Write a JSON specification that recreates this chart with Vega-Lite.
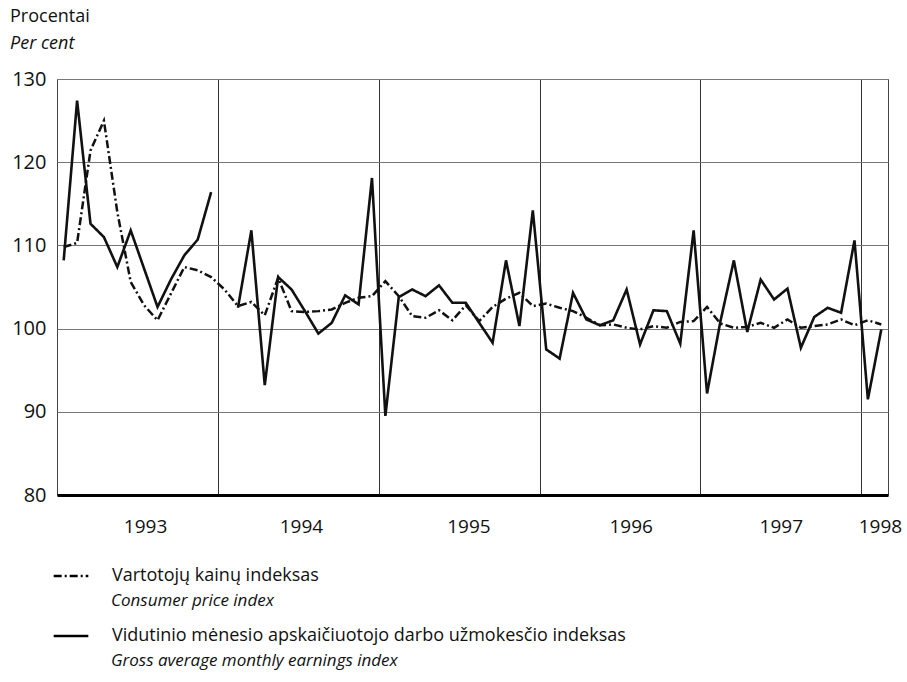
{
  "$schema": "https://vega.github.io/schema/vega-lite/v6.json",
  "width": 831,
  "height": 416,
  "autosize": "none",
  "padding": {"left": 57, "top": 79, "right": 19, "bottom": 187},
  "background": "white",
  "config": {
    "view": {"stroke": "#444", "strokeWidth": 1},
    "font": "Open Sans"
  },
  "title": {
    "text": "Procentai",
    "subtitle": "Per cent",
    "anchor": "start",
    "frame": "group",
    "dx": -47,
    "fontSize": 18,
    "fontWeight": "normal",
    "color": "#111",
    "subtitleFontSize": 18,
    "subtitleFontStyle": "italic",
    "subtitleColor": "#111",
    "subtitlePadding": 9,
    "offset": 16
  },
  "datasets": {
    "names": [
      {"s": "cpi", "lt": "Vartotojų kainų indeksas", "en": "Consumer price index"},
      {"s": "earn", "lt": "Vidutinio mėnesio apskaičiuotojo darbo užmokesčio indeksas", "en": "Gross average monthly earnings index"}
    ],
    "values": [
      {"m": 1, "s": "cpi", "seg": "c", "v": 109.8},
      {"m": 2, "s": "cpi", "seg": "c", "v": 110.3},
      {"m": 3, "s": "cpi", "seg": "c", "v": 121.4},
      {"m": 4, "s": "cpi", "seg": "c", "v": 125.0},
      {"m": 5, "s": "cpi", "seg": "c", "v": 114.0},
      {"m": 6, "s": "cpi", "seg": "c", "v": 105.6},
      {"m": 7, "s": "cpi", "seg": "c", "v": 102.8},
      {"m": 8, "s": "cpi", "seg": "c", "v": 101.0},
      {"m": 9, "s": "cpi", "seg": "c", "v": 104.2},
      {"m": 10, "s": "cpi", "seg": "c", "v": 107.4},
      {"m": 11, "s": "cpi", "seg": "c", "v": 107.0},
      {"m": 12, "s": "cpi", "seg": "c", "v": 106.2},
      {"m": 13, "s": "cpi", "seg": "c", "v": 104.7},
      {"m": 14, "s": "cpi", "seg": "c", "v": 102.7},
      {"m": 15, "s": "cpi", "seg": "c", "v": 103.2},
      {"m": 16, "s": "cpi", "seg": "c", "v": 101.6},
      {"m": 17, "s": "cpi", "seg": "c", "v": 106.1},
      {"m": 18, "s": "cpi", "seg": "c", "v": 102.1},
      {"m": 19, "s": "cpi", "seg": "c", "v": 102.0},
      {"m": 20, "s": "cpi", "seg": "c", "v": 102.1},
      {"m": 21, "s": "cpi", "seg": "c", "v": 102.3},
      {"m": 22, "s": "cpi", "seg": "c", "v": 103.1},
      {"m": 23, "s": "cpi", "seg": "c", "v": 103.7},
      {"m": 24, "s": "cpi", "seg": "c", "v": 103.9},
      {"m": 25, "s": "cpi", "seg": "c", "v": 105.7},
      {"m": 26, "s": "cpi", "seg": "c", "v": 103.9},
      {"m": 27, "s": "cpi", "seg": "c", "v": 101.5},
      {"m": 28, "s": "cpi", "seg": "c", "v": 101.3},
      {"m": 29, "s": "cpi", "seg": "c", "v": 102.2},
      {"m": 30, "s": "cpi", "seg": "c", "v": 101.0},
      {"m": 31, "s": "cpi", "seg": "c", "v": 102.8},
      {"m": 32, "s": "cpi", "seg": "c", "v": 100.9},
      {"m": 33, "s": "cpi", "seg": "c", "v": 102.6},
      {"m": 34, "s": "cpi", "seg": "c", "v": 103.6},
      {"m": 35, "s": "cpi", "seg": "c", "v": 104.3},
      {"m": 36, "s": "cpi", "seg": "c", "v": 102.7},
      {"m": 37, "s": "cpi", "seg": "c", "v": 103.0},
      {"m": 38, "s": "cpi", "seg": "c", "v": 102.5},
      {"m": 39, "s": "cpi", "seg": "c", "v": 102.1},
      {"m": 40, "s": "cpi", "seg": "c", "v": 101.3},
      {"m": 41, "s": "cpi", "seg": "c", "v": 100.4},
      {"m": 42, "s": "cpi", "seg": "c", "v": 100.5},
      {"m": 43, "s": "cpi", "seg": "c", "v": 100.1},
      {"m": 44, "s": "cpi", "seg": "c", "v": 99.9},
      {"m": 45, "s": "cpi", "seg": "c", "v": 100.3},
      {"m": 46, "s": "cpi", "seg": "c", "v": 100.1},
      {"m": 47, "s": "cpi", "seg": "c", "v": 100.8},
      {"m": 48, "s": "cpi", "seg": "c", "v": 100.9},
      {"m": 49, "s": "cpi", "seg": "c", "v": 102.6},
      {"m": 50, "s": "cpi", "seg": "c", "v": 100.6},
      {"m": 51, "s": "cpi", "seg": "c", "v": 100.1},
      {"m": 52, "s": "cpi", "seg": "c", "v": 100.2},
      {"m": 53, "s": "cpi", "seg": "c", "v": 100.7},
      {"m": 54, "s": "cpi", "seg": "c", "v": 100.1},
      {"m": 55, "s": "cpi", "seg": "c", "v": 101.1},
      {"m": 56, "s": "cpi", "seg": "c", "v": 100.1},
      {"m": 57, "s": "cpi", "seg": "c", "v": 100.3},
      {"m": 58, "s": "cpi", "seg": "c", "v": 100.5},
      {"m": 59, "s": "cpi", "seg": "c", "v": 101.1},
      {"m": 60, "s": "cpi", "seg": "c", "v": 100.4},
      {"m": 61, "s": "cpi", "seg": "c", "v": 101.0},
      {"m": 62, "s": "cpi", "seg": "c", "v": 100.5},
      {"m": 1, "s": "earn", "seg": "e1", "v": 108.2},
      {"m": 2, "s": "earn", "seg": "e1", "v": 127.4},
      {"m": 3, "s": "earn", "seg": "e1", "v": 112.6},
      {"m": 4, "s": "earn", "seg": "e1", "v": 111.0},
      {"m": 5, "s": "earn", "seg": "e1", "v": 107.4},
      {"m": 6, "s": "earn", "seg": "e1", "v": 111.8},
      {"m": 7, "s": "earn", "seg": "e1", "v": 107.2},
      {"m": 8, "s": "earn", "seg": "e1", "v": 102.6},
      {"m": 9, "s": "earn", "seg": "e1", "v": 105.9},
      {"m": 10, "s": "earn", "seg": "e1", "v": 108.8},
      {"m": 11, "s": "earn", "seg": "e1", "v": 110.7},
      {"m": 12, "s": "earn", "seg": "e1", "v": 116.4},
      {"m": 14, "s": "earn", "seg": "e2", "v": 102.5},
      {"m": 15, "s": "earn", "seg": "e2", "v": 111.8},
      {"m": 16, "s": "earn", "seg": "e2", "v": 93.2},
      {"m": 17, "s": "earn", "seg": "e2", "v": 106.2},
      {"m": 18, "s": "earn", "seg": "e2", "v": 104.7},
      {"m": 19, "s": "earn", "seg": "e2", "v": 102.1},
      {"m": 20, "s": "earn", "seg": "e2", "v": 99.4},
      {"m": 21, "s": "earn", "seg": "e2", "v": 100.7},
      {"m": 22, "s": "earn", "seg": "e2", "v": 104.0},
      {"m": 23, "s": "earn", "seg": "e2", "v": 102.9},
      {"m": 24, "s": "earn", "seg": "e2", "v": 118.1},
      {"m": 25, "s": "earn", "seg": "e2", "v": 89.5},
      {"m": 26, "s": "earn", "seg": "e2", "v": 103.8},
      {"m": 27, "s": "earn", "seg": "e2", "v": 104.7},
      {"m": 28, "s": "earn", "seg": "e2", "v": 103.9},
      {"m": 29, "s": "earn", "seg": "e2", "v": 105.2},
      {"m": 30, "s": "earn", "seg": "e2", "v": 103.1},
      {"m": 31, "s": "earn", "seg": "e2", "v": 103.1},
      {"m": 32, "s": "earn", "seg": "e2", "v": 100.7},
      {"m": 33, "s": "earn", "seg": "e2", "v": 98.3},
      {"m": 34, "s": "earn", "seg": "e2", "v": 108.2},
      {"m": 35, "s": "earn", "seg": "e2", "v": 100.3},
      {"m": 36, "s": "earn", "seg": "e2", "v": 114.2},
      {"m": 37, "s": "earn", "seg": "e2", "v": 97.5},
      {"m": 38, "s": "earn", "seg": "e2", "v": 96.4},
      {"m": 39, "s": "earn", "seg": "e2", "v": 104.3},
      {"m": 40, "s": "earn", "seg": "e2", "v": 101.1},
      {"m": 41, "s": "earn", "seg": "e2", "v": 100.4},
      {"m": 42, "s": "earn", "seg": "e2", "v": 101.0},
      {"m": 43, "s": "earn", "seg": "e2", "v": 104.7},
      {"m": 44, "s": "earn", "seg": "e2", "v": 98.1},
      {"m": 45, "s": "earn", "seg": "e2", "v": 102.2},
      {"m": 46, "s": "earn", "seg": "e2", "v": 102.1},
      {"m": 47, "s": "earn", "seg": "e2", "v": 98.2},
      {"m": 48, "s": "earn", "seg": "e2", "v": 111.8},
      {"m": 49, "s": "earn", "seg": "e2", "v": 92.2},
      {"m": 50, "s": "earn", "seg": "e2", "v": 100.9},
      {"m": 51, "s": "earn", "seg": "e2", "v": 108.2},
      {"m": 52, "s": "earn", "seg": "e2", "v": 99.6},
      {"m": 53, "s": "earn", "seg": "e2", "v": 105.9},
      {"m": 54, "s": "earn", "seg": "e2", "v": 103.5},
      {"m": 55, "s": "earn", "seg": "e2", "v": 104.8},
      {"m": 56, "s": "earn", "seg": "e2", "v": 97.7},
      {"m": 57, "s": "earn", "seg": "e2", "v": 101.4},
      {"m": 58, "s": "earn", "seg": "e2", "v": 102.5},
      {"m": 59, "s": "earn", "seg": "e2", "v": 101.9},
      {"m": 60, "s": "earn", "seg": "e2", "v": 110.6},
      {"m": 61, "s": "earn", "seg": "e2", "v": 91.5},
      {"m": 62, "s": "earn", "seg": "e2", "v": 99.9}
    ]
  },
  "data": {"name": "values"},
  "transform": [
    {"lookup": "s", "from": {"data": {"name": "names"}, "key": "s", "fields": ["lt", "en"]}}
  ],
  "encoding": {
    "y": {
      "field": "v",
      "type": "quantitative",
      "scale": {"domain": [80, 130], "nice": false, "zero": false},
      "axis": {
        "values": [80, 90, 100, 110, 120, 130],
        "grid": true,
        "gridColor": "#777",
        "gridWidth": 1,
        "ticks": false,
        "domain": false,
        "labelFontSize": 20,
        "labelPadding": 11,
        "labelColor": "#111",
        "title": null
      }
    },
    "strokeDash": {
      "field": "lt",
      "type": "nominal",
      "scale": {
        "domain": ["Vartotojų kainų indeksas", "Vidutinio mėnesio apskaičiuotojo darbo užmokesčio indeksas"],
        "range": [[8, 3, 2, 3], [1, 0]]
      },
      "legend": {
        "orient": "none",
        "legendX": -5,
        "legendY": 487,
        "title": null,
        "direction": "vertical",
        "symbolType": "stroke",
        "symbolStrokeColor": "#000",
        "symbolStrokeWidth": 2.5,
        "symbolSize": 1200,
        "clipHeight": 20,
        "rowPadding": 40,
        "labelFontSize": 18,
        "labelOffset": 22,
        "labelLimit": 900,
        "labelColor": "#111"
      }
    },
    "color": {
      "field": "en",
      "type": "nominal",
      "scale": {
        "domain": ["Consumer price index", "Gross average monthly earnings index"],
        "range": ["#111", "#111"]
      },
      "legend": {
        "orient": "none",
        "legendX": -5,
        "legendY": 512,
        "title": null,
        "direction": "vertical",
        "symbolType": "stroke",
        "symbolOpacity": 0,
        "symbolStrokeColor": "transparent",
        "symbolSize": 1200,
        "clipHeight": 20,
        "rowPadding": 40,
        "labelFontSize": 17,
        "labelFontStyle": "italic",
        "labelOffset": 22,
        "labelLimit": 900,
        "labelColor": "#111"
      }
    },
    "detail": {"field": "seg", "type": "nominal"}
  },
  "layer": [
    {
      "transform": [{"filter": {"field": "s", "equal": "cpi"}}],
      "mark": {"type": "line", "strokeWidth": 2.5},
      "encoding": {
        "x": {
          "field": "m",
          "type": "quantitative",
          "scale": {"domain": [0.5, 62.5], "nice": false, "zero": false},
          "axis": {
            "orient": "bottom",
            "values": [7.07, 18.7, 31.2, 43.3, 54.5, 61.9],
            "labelExpr": "'' + (1993 + floor((datum.value - 0.5) / 12))",
            "grid": false,
            "ticks": false,
            "domainColor": "#000",
            "domainWidth": 3,
            "labelFontSize": 19,
            "labelPadding": 22,
            "labelColor": "#111",
            "title": null
          }
        }
      }
    },
    {
      "transform": [{"filter": {"field": "s", "equal": "earn"}}],
      "mark": {"type": "line", "strokeWidth": 2.6},
      "encoding": {
        "x": {
          "field": "m",
          "type": "quantitative",
          "scale": {"domain": [0.5, 62.5], "nice": false, "zero": false},
          "axis": {
            "orient": "top",
            "values": [12.5, 24.5, 36.5, 48.5, 60.5],
            "grid": true,
            "gridColor": "#333",
            "gridWidth": 1,
            "labels": false,
            "ticks": false,
            "domain": false,
            "title": null
          }
        }
      }
    }
  ],
  "resolve": {"axis": {"x": "independent"}}
}
